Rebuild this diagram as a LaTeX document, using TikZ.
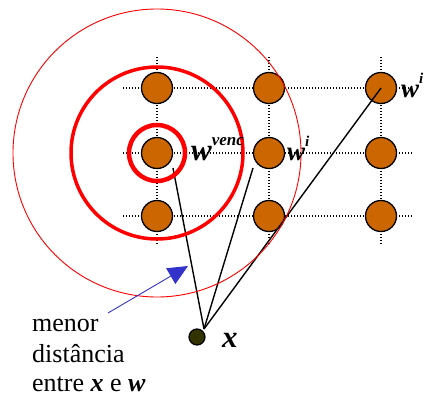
\documentclass[tikz,border=0pt]{standalone}
\usepackage{fontspec}
\setmainfont{Liberation Serif}
\usetikzlibrary{arrows.meta}
\definecolor{unitfill}{HTML}{CC6600}
\definecolor{inputfill}{HTML}{333300}
\definecolor{pointer}{HTML}{3333CC}
\tikzset{
  unit/.style={circle, draw=black, line width=1.3pt, fill=unitfill, minimum size=31pt, inner sep=0pt},
  inputdot/.style={circle, draw=black, line width=1.2pt, fill=inputfill, minimum size=16pt, inner sep=0pt},
  gridline/.style={line width=1.2pt, dash pattern=on 1.2pt off 1.8pt},
  ring/.style={draw=red},
  link/.style={line width=1.4pt, black},
  lbl/.style={anchor=base west, inner sep=0pt},
}
\newcommand{\wsup}[4]{{\fontsize{#1}{#1}\selectfont\bfseries\itshape w\raisebox{#3}{\fontsize{#2}{#2}\selectfont #4}}}
\begin{document}
\begin{tikzpicture}[x=1pt,y=-1pt]
\useasboundingbox (0,0) rectangle (425,396);

% dotted lattice
\foreach \yy in {88,153,216} \draw[gridline] (123,\yy) -- (412,\yy);
\foreach \xx in {157,269,381} \draw[gridline] (\xx,57) -- (\xx,245);

% map units
\foreach \c/\xx in {1/157,2/269,3/381}{
  \node[unit] (n1\c) at (\xx,88) {};
  \node[unit] (n2\c) at (\xx,153) {};
  \node[unit] (n3\c) at (\xx,216) {};
}

% input sample
\node[inputdot] (x) at (197,337) {};
\coordinate (xp) at (204,329);
\coordinate (e1) at (173,168);
\coordinate (e2) at (253,168);

% distances from x to the units
\draw[link] (xp) -- (e1);
\draw[link] (xp) -- (e2);
\draw[link] (xp) -- (n13.center);

% neighbourhood rings around the winner
\draw[ring, line width=4.5pt] (n21) circle (28);
\draw[ring, line width=3.5pt] (n21) circle (86);
\draw[ring, line width=0.9pt] (n21) circle (144);

% labels
\node[lbl] (lv) at (191,160) {\wsup{31}{17}{15pt}{venc}};
\node[lbl] (li) at (287,160) {\wsup{27}{15}{14pt}{i}};
\node[lbl] (lj) at (401,97) {\wsup{27}{15}{14pt}{i}};
\node[lbl] (lx) at (222,347) {\fontsize{31}{31}\selectfont\bfseries\itshape x};

% caption with pointer
\node[lbl, font=\fontsize{26}{26}\selectfont] (t1) at (32,331) {menor};
\node[lbl, font=\fontsize{26}{26}\selectfont] (t2) at (32,362) {distância};
\node[lbl, font=\fontsize{26}{26}\selectfont] (t3) at (32,391) {entre \textbf{\textit{x}} e \textbf{\textit{w}}};
\coordinate (ps) at (108,313);
\coordinate (pe) at (188,266);
\draw[pointer, line width=0.9pt, -{Triangle[length=20pt,width=18pt]}] (ps) -- (pe);
\end{tikzpicture}
\end{document}
